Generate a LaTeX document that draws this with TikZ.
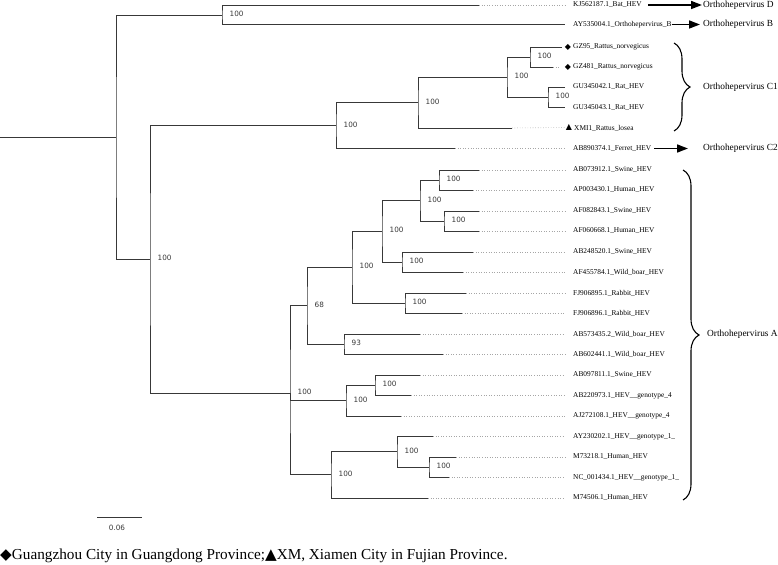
\documentclass[tikz,border=0pt]{standalone}
\usepackage{fontspec}
\setmainfont{Liberation Serif}
\newfontfamily\symfont{DejaVu Sans}
\newfontfamily\bsfont{DejaVu Sans}
\usetikzlibrary{arrows.meta,decorations.pathreplacing}
\begin{document}
\begin{tikzpicture}[x=1bp,y=-1bp,
  branch/.style={draw=black!78, line width=0.9bp},
  leader/.style={draw=black!35, dotted, line width=0.6bp},
  taxon/.style={anchor=west, inner sep=0pt, font=\fontsize{7.4}{8}\selectfont},
  marker/.style={inner sep=0pt, font=\symfont\fontsize{8}{8}\selectfont},
  boot/.style={anchor=west, inner sep=0pt, text=black!78, font=\bsfont\fontsize{7.3}{8}\selectfont},
  clade/.style={anchor=west, inner sep=0pt, font=\fontsize{9.4}{11}\selectfont},
  cladearrow/.style={line width=1.6bp, -{Triangle[length=11bp,width=8bp]}},
  cladebrace/.style={decorate, decoration={brace, amplitude=16bp}, line width=1.1bp},
  caption/.style={anchor=west, inner sep=0pt, font=\fontsize{15.3}{17}\selectfont}
]
\useasboundingbox (0,0) rectangle (778,565);

% ---------- taxon labels ----------
\node[taxon] (t1)  at (573,5)     {KJ562187.1\_Bat\_HEV};
\node[taxon] (t2)  at (573,24.5)  {AY535004.1\_Orthohepervirus\_B};
\node[taxon] (t3)  at (573,47)    {GZ95\_Rattus\_norvegicus};
\node[taxon] (t4)  at (573,67)    {GZ481\_Rattus\_norvegicus};
\node[taxon] (t5)  at (573,87)    {GU345042.1\_Rat\_HEV};
\node[taxon] (t6)  at (573,107.5) {GU345043.1\_Rat\_HEV};
\node[taxon] (t7)  at (574,128)   {XMI1\_Rattus\_losea};
\node[taxon] (t8)  at (573,148.5) {AB890374.1\_Ferret\_HEV};
\node[taxon] (t9)  at (573,170)   {AB073912.1\_Swine\_HEV};
\node[taxon] (t10) at (573,190)   {AP003430.1\_Human\_HEV};
\node[taxon] (t11) at (573,211)   {AF082843.1\_Swine\_HEV};
\node[taxon] (t12) at (573,231)   {AF060668.1\_Human\_HEV};
\node[taxon] (t13) at (573,252)   {AB248520.1\_Swine\_HEV};
\node[taxon] (t14) at (573,272)   {AF455784.1\_Wild\_boar\_HEV};
\node[taxon] (t15) at (573,293)   {FJ906895.1\_Rabbit\_HEV};
\node[taxon] (t16) at (573,313)   {FJ906896.1\_Rabbit\_HEV};
\node[taxon] (t17) at (573,334)   {AB573435.2\_Wild\_boar\_HEV};
\node[taxon] (t18) at (573,354)   {AB602441.1\_Wild\_boar\_HEV};
\node[taxon] (t19) at (573,375)   {AB097811.1\_Swine\_HEV};
\node[taxon] (t20) at (573,395.5) {AB220973.1\_HEV\_\_genotype\_4};
\node[taxon] (t21) at (573,416)   {AJ272108.1\_HEV\_\_genotype\_4};
\node[taxon] (t22) at (573,436.5) {AY230202.1\_HEV\_\_genotype\_1\_};
\node[taxon] (t23) at (573,457)   {M73218.1\_Human\_HEV};
\node[taxon] (t24) at (573,477.5) {NC\_001434.1\_HEV\_\_genotype\_1\_};
\node[taxon] (t25) at (573,498)   {M74506.1\_Human\_HEV};

% markers
\node[marker] (m3) at (568,47) {◆};
\node[marker] (m4) at (568,67) {◆};
\node[marker] (m7) at (569,127.5) {▲};

% ---------- branch tips ----------
\coordinate (e1)  at (479,5);
\coordinate (e2)  at (565,24.5);
\coordinate (e3)  at (562,47);
\coordinate (e4)  at (553,67);
\coordinate (e5)  at (565,87);
\coordinate (e6)  at (565,107.5);
\coordinate (e7)  at (512,128);
\coordinate (e8)  at (455,148.5);
\coordinate (e9)  at (479,170);
\coordinate (e10) at (473,190);
\coordinate (e11) at (479,211);
\coordinate (e12) at (479,231);
\coordinate (e13) at (473,252);
\coordinate (e14) at (463,272);
\coordinate (e15) at (466,293);
\coordinate (e16) at (462,313);
\coordinate (e17) at (420,334);
\coordinate (e18) at (443,354);
\coordinate (e19) at (420,375);
\coordinate (e20) at (411,395.5);
\coordinate (e21) at (401,416);
\coordinate (e22) at (433,436.5);
\coordinate (e23) at (456,457);
\coordinate (e24) at (449,477.5);
\coordinate (e25) at (428,498);

% ---------- internal nodes ----------
\coordinate (root0) at (0,137.25);
\coordinate (n0)   at (116,137.25);
\coordinate (nDB)  at (222,15);
\coordinate (nC)   at (150,259.25);
\coordinate (nC12) at (336,125.5);
\coordinate (nC1)  at (418,102.5);
\coordinate (nC1a) at (507,77);
\coordinate (nGZ)  at (530,57);
\coordinate (nGU)  at (548,97.25);
\coordinate (nA)   at (290,393);
\coordinate (nA1)  at (307,305.6);
\coordinate (nA2)  at (352,267.1);
\coordinate (nA3)  at (382,231.25);
\coordinate (nA4)  at (420,200.5);
\coordinate (nA5)  at (439,180);
\coordinate (nA6)  at (444,221);
\coordinate (nA7)  at (402,262);
\coordinate (nA8)  at (405,303);
\coordinate (nA9)  at (344,344);
\coordinate (nG4)  at (346,400.6);
\coordinate (nG4b) at (375,385.25);
\coordinate (nG1)  at (331,474.9);
\coordinate (nG1b) at (397,451.9);
\coordinate (nG1c) at (429,467.25);

% ---------- branches ----------
\draw[branch] (root0) -- (n0);
\draw[branch] (nDB) -| (n0) |- (nC);
\draw[branch] (e1) -| (nDB) |- (e2);
\draw[branch] (nC12) -| (nC) |- (nA);
\draw[branch] (nC1) -| (nC12) |- (e8);
\draw[branch] (nC1a) -| (nC1) |- (e7);
\draw[branch] (nGZ) -| (nC1a) |- (nGU);
\draw[branch] (e3) -| (nGZ) |- (e4);
\draw[branch] (e5) -| (nGU) |- (e6);
\draw[branch] (nA1) -| (nA) |- (nG1);
\draw[branch] (nA) |- (nG4);
\draw[branch] (nA2) -| (nA1) |- (nA9);
\draw[branch] (nA3) -| (nA2) |- (nA8);
\draw[branch] (nA4) -| (nA3) |- (nA7);
\draw[branch] (nA5) -| (nA4) |- (nA6);
\draw[branch] (e9) -| (nA5) |- (e10);
\draw[branch] (e11) -| (nA6) |- (e12);
\draw[branch] (e13) -| (nA7) |- (e14);
\draw[branch] (e15) -| (nA8) |- (e16);
\draw[branch] (e17) -| (nA9) |- (e18);
\draw[branch] (nG4b) -| (nG4) |- (e21);
\draw[branch] (e19) -| (nG4b) |- (e20);
\draw[branch] (nG1b) -| (nG1) |- (e25);
\draw[branch] (e22) -| (nG1b) |- (nG1c);
\draw[branch] (e23) -| (nG1c) |- (e24);

% ---------- dotted leaders ----------
\foreach \i in {1,8,9,10,11,12,13,14,15,16,17,18,19,20,21,22,23,24,25}
  \draw[leader] (e\i) -- ([xshift=-8bp]t\i.west);
\draw[leader] (e4) -- ([xshift=-5bp]m4.west);
\draw[leader] (e7) -- ([xshift=-1bp]m7.west);

% ---------- bootstrap values ----------
\foreach \n in {nDB,nC,nC12,nC1,nC1a,nGZ,nGU,nA,nA2,nA3,nA4,nA5,nA6,nA7,nA8,nG4,nG4b,nG1,nG1b,nG1c}
  \node[boot] (b-\n) at ([xshift=7.5bp,yshift=1bp]\n) {100};
\node[boot] (b-nA1) at ([xshift=7.5bp,yshift=1bp]nA1) {68};
\node[boot] (b-nA9) at ([xshift=7.5bp,yshift=1bp]nA9) {93};

% ---------- clade labels ----------
\node[clade] (cD)  at (703,5)     {Orthohepervirus D};
\node[clade] (cB)  at (703,24.5)  {Orthohepervirus B};
\node[clade] (cC1) at (703,87)    {Orthohepervirus C1};
\node[clade] (cC2) at (703,148.5) {Orthohepervirus C2};
\node[clade] (cA)  at (707,334)   {Orthohepervirus A};

\draw[cladearrow] ([xshift=6bp]t1.east) -- ([xshift=-1bp]cD.west);
\draw[cladearrow] ([xshift=0bp]t2.east) -- ([xshift=-3bp]cB.west);
\draw[cladearrow] ([xshift=3bp]t8.east) -- ([xshift=-15bp]cC2.west);

\coordinate (bC1a) at (674,43);
\coordinate (bC1b) at (674,131);
\coordinate (bAa) at (683,170);
\coordinate (bAb) at (683,500);
\draw[cladebrace] (bC1a) -- (bC1b);
\draw[cladebrace] (bAa) -- (bAb);

% ---------- scale bar ----------
\coordinate (sb1) at (97,517);
\coordinate (sb2) at (142,517);
\draw[branch] (sb1) -- (sb2);
\node[boot, anchor=center] (sbl) at (117,527.5) {0.06};

% ---------- caption ----------
\node[caption] (cap) at (0,556) {{\symfont ◆}Guangzhou City in Guangdong Province;{\symfont ▲}XM, Xiamen City in Fujian Province.};
\end{tikzpicture}
\end{document}
